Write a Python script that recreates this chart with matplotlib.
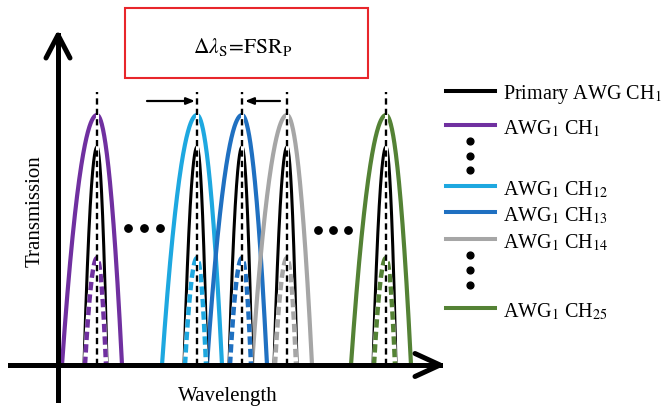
import numpy as np
import matplotlib.pyplot as plt
from matplotlib.patches import Rectangle

plt.rcParams['font.family'] = ['Liberation Serif', 'DejaVu Serif']
plt.rcParams['mathtext.fontset'] = 'stix'
plt.rcParams['lines.scale_dashes'] = False

# Canales del AWG secundario (centro, color, etiqueta)
centros = [97, 197, 242, 287, 386]
colores = ['#7030A0', '#1EA8E0', '#1F70C1', '#A6A6A6', '#548235']
etiquetas = ['AWG$_1$ CH$_1$', 'AWG$_1$ CH$_{12}$', 'AWG$_1$ CH$_{13}$',
             'AWG$_1$ CH$_{14}$', 'AWG$_1$ CH$_{25}$']

# Alturas y semianchos (izquierda, derecha) de cada tipo de pico
alto_color, ancho_color = 250, (35, 25)
alto_negro, ancho_negro = 218, (13, 10)
alto_punteado, ancho_punteado = 107, (12, 9)
alto_marca = 273

# Posiciones de la leyenda (en unidades verticales de la figura)
leyenda_y = [91, 125, 186, 212, 239, 308]
puntos_leyenda_y = [141, 156, 170, 255, 270, 285]
puntos_x = [128, 144, 160, 318, 333, 348]
puntos_y = [228, 228, 228, 230, 230, 230]


def pico(c, h, anchos, n=200):
    wl, wr = anchos
    x = np.linspace(c - wl, c + wr, n)
    w = np.where(x < c, wl, wr)
    y = h * (1 - ((x - c) / w) ** 2)
    return x, np.clip(y, 0, None)


def yv(p):
    # convierte coordenada de pixel a valor vertical
    return 365 - p


fig = plt.figure(figsize=(6.68, 4.09), dpi=100)
ax = fig.add_axes([0, 0, 1, 1])
ax.set_xlim(0, 668)
ax.set_ylim(-44, 365)
ax.axis('off')

# Picos
for c, col in zip(centros, colores):
    x, y = pico(c, alto_color, ancho_color)
    ax.plot(x, y, color=col, lw=3.0, zorder=2)
for c, col in zip(centros, colores):
    x, y = pico(c, alto_negro, ancho_negro)
    ax.plot(x, y, color='black', lw=2.2, zorder=3)
    x, y = pico(c, alto_punteado, ancho_punteado)
    ax.plot(x, y, color='white', lw=3.2, zorder=4)
    ax.plot(x, y, color=col, lw=3.2, dashes=(6, 3), zorder=5)
    ax.plot([c, c], [0, alto_marca], color='white', lw=2.2, zorder=6)
    ax.plot([c, c], [0, alto_marca], color='black', lw=1.7,
            dashes=(4.5, 3), zorder=7)

# Puntos suspensivos
ax.scatter(puntos_x, [yv(p) for p in puntos_y], s=28, color='black', zorder=8)

# Ejes con flechas
ax.plot([58, 58], [-35, 330], color='black', lw=3.6, zorder=9)
ax.plot([46, 58, 70], [307, 330, 307], color='black', lw=3.6,
        solid_capstyle='round', solid_joinstyle='round', zorder=9)
ax.plot([10, 440], [0, 0], color='black', lw=3.6, zorder=9)
ax.plot([415, 440, 415], [11.5, 0, -11.5], color='black', lw=3.6,
        solid_capstyle='round', solid_joinstyle='round', zorder=9)

ax.text(35, yv(211), 'Transmission', rotation=90, ha='center', va='center',
        fontsize=15)
ax.text(228, yv(397), 'Wavelength', ha='center', va='center', fontsize=15)

# Recuadro con la condicion de diseño
ax.add_patch(Rectangle((125, yv(78)), 243, 70, fill=False,
                       edgecolor='#E8262B', lw=1.5))
ax.text(243, yv(47),
        r'$\Delta\mathit{\lambda}_{\mathrm{S}}\!=\!\mathrm{FSR}_{\mathrm{P}}$',
        ha='center', va='center', fontsize=15.5)

# Flechas de separación
ax.annotate('', xy=(195, yv(101)), xytext=(147, yv(101)),
            arrowprops=dict(arrowstyle='-|>,head_length=0.5,head_width=0.2',
                            color='black', lw=1.6, shrinkA=0, shrinkB=0))
ax.annotate('', xy=(245, yv(101)), xytext=(280, yv(101)),
            arrowprops=dict(arrowstyle='-|>,head_length=0.5,head_width=0.2',
                            color='black', lw=1.6, shrinkA=0, shrinkB=0))

# Leyenda
ax.plot([446, 495], [yv(leyenda_y[0])] * 2, color='black', lw=2.9)
ax.text(503, yv(leyenda_y[0] + 4), 'Primary AWG CH$_1$', va='center', fontsize=14.5)
for ly, col, lab in zip(leyenda_y[1:], colores, etiquetas):
    ax.plot([446, 495], [yv(ly)] * 2, color=col, lw=2.9)
    ax.text(503, yv(ly + 4), lab, va='center', fontsize=14.5)
ax.scatter([470] * len(puntos_leyenda_y), [yv(p) for p in puntos_leyenda_y],
           s=24, color='black')

plt.savefig('out.png', dpi=100)
